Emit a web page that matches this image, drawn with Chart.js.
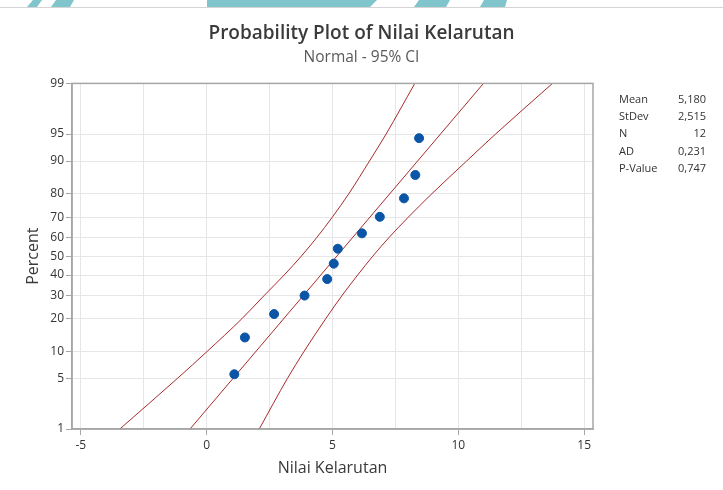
<!DOCTYPE html>
<html>
<head>
<meta charset="utf-8">
<script src="https://cdn.jsdelivr.net/npm/chart.js@4.4.0/dist/chart.umd.min.js"></script>
<style>
  html, body { margin: 0; padding: 0; background: #fff; }
  #wrap { width: 723px; height: 490px; position: relative; }
</style>
</head>
<body>
<div id="wrap"><canvas id="probChart" width="723" height="490"></canvas></div>
<script>
// observed values (x) and their plotted percents
const obsX = [1.10, 1.52, 2.68, 3.89, 4.79, 5.05, 5.21, 6.17, 6.88, 7.84, 8.29, 8.44];
const obsPct = [5.6, 13.7, 21.8, 29.8, 37.9, 46.0, 54.0, 62.1, 70.2, 78.2, 86.3, 94.4];
// fitted line, read at its two ends
const fitX = [-0.66, 11.0];
const fitPct = [1, 99];
const ciPct = [1, 5, 10, 20, 30, 40, 50, 60, 70, 80, 90, 95, 99];
const ciLowX = [-3.45, -1.16, 0.02, 1.40, 2.30, 3.08, 3.76, 4.38, 4.99, 5.65, 6.47, 7.13, 8.27];
const ciHighX = [2.09, 3.21, 3.87, 4.73, 5.39, 6.00, 6.60, 7.25, 8.01, 8.95, 10.33, 11.48, 13.74];
// axes
const yTicks = [1, 5, 10, 20, 30, 40, 50, 60, 70, 80, 90, 95, 99];
const xTicks = [-5, -2.5, 0, 2.5, 5, 7.5, 10, 12.5, 15];
const statLabels = ['Mean', 'StDev', 'N', 'AD', 'P-Value'];
const statValues = ['5,180', '2,515', '12', '0,231', '0,747'];

// inverse normal cdf (Acklam) - used for the probability axis
function probit(p) {
  const a = [-3.969683028665376e+01, 2.209460984245205e+02, -2.759285104469687e+02, 1.383577518672690e+02, -3.066479806614716e+01, 2.506628277459239e+00];
  const b = [-5.447609879822406e+01, 1.615858368580409e+02, -1.556989798598866e+02, 6.680131188771972e+01, -1.328068155288572e+01];
  const c = [-7.784894002430293e-03, -3.223964580411365e-01, -2.400758277161838e+00, -2.549732539343734e+00, 4.374664141464968e+00, 2.938163982698783e+00];
  const d = [7.784695709041462e-03, 3.224671290700398e-01, 2.445134137142996e+00, 3.754408661907416e+00];
  const pl = 0.02425;
  let q, r;
  if (p < pl) {
    q = Math.sqrt(-2 * Math.log(p));
    return (((((c[0]*q+c[1])*q+c[2])*q+c[3])*q+c[4])*q+c[5]) / ((((d[0]*q+d[1])*q+d[2])*q+d[3])*q+1);
  }
  if (p > 1 - pl) {
    q = Math.sqrt(-2 * Math.log(1 - p));
    return -(((((c[0]*q+c[1])*q+c[2])*q+c[3])*q+c[4])*q+c[5]) / ((((d[0]*q+d[1])*q+d[2])*q+d[3])*q+1);
  }
  q = p - 0.5; r = q * q;
  return (((((a[0]*r+a[1])*r+a[2])*r+a[3])*r+a[4])*r+a[5])*q / (((((b[0]*r+b[1])*r+b[2])*r+b[3])*r+b[4])*r+1);
}
const z = pct => probit(pct / 100);
const pts = (xs, ps) => xs.map((x, i) => ({ x: x, y: z(ps[i]) }));

const FONT = "'Open Sans', 'Noto Sans', sans-serif";
const RED = '#a82a2c';
const AXIS = '#a6a6a6';

// teal strip at the very top + frame + stats table
const extras = {
  id: 'extras',
  beforeDraw(chart) {
    const ctx = chart.ctx;
    ctx.save();
    ctx.fillStyle = '#80c4cc';
    const shapes = [
      [[33, 0], [42, 0], [37, 7], [27, 7]],
      [[56, 0], [74, 0], [70, 7], [51, 7]],
      [[207, 0], [377, 0], [370, 7], [207, 7]],
      [[419, 0], [450, 0], [446, 7], [414, 7]],
      [[484, 0], [507, 0], [505, 7], [480, 7]]
    ];
    shapes.forEach(s => {
      ctx.beginPath();
      ctx.moveTo(s[0][0], s[0][1]);
      s.slice(1).forEach(p => ctx.lineTo(p[0], p[1]));
      ctx.closePath();
      ctx.fill();
    });
    ctx.strokeStyle = '#d4d4d4';
    ctx.lineWidth = 1;
    ctx.beginPath();
    ctx.moveTo(0, 7.5);
    ctx.lineTo(723, 7.5);
    ctx.stroke();
    ctx.restore();
  },
  afterDraw(chart) {
    const ctx = chart.ctx;
    const a = chart.chartArea;
    ctx.save();
    ctx.strokeStyle = AXIS;
    ctx.lineWidth = 1.5;
    ctx.strokeRect(a.left, a.top, a.right - a.left, a.bottom - a.top);
    ctx.font = '11px ' + FONT;
    ctx.fillStyle = '#333';
    ctx.textBaseline = 'middle';
    statLabels.forEach((lab, i) => {
      const y = a.top + 16.5 + i * 17.2;
      ctx.textAlign = 'left';
      ctx.fillText(lab, a.right + 26, y);
      ctx.textAlign = 'right';
      ctx.fillText(statValues[i], a.right + 113, y);
    });
    ctx.restore();
  }
};

const curve = (label, data) => ({
  label: label,
  data: data,
  showLine: true,
  borderColor: RED,
  borderWidth: 1,
  pointRadius: 0,
  cubicInterpolationMode: 'monotone',
  order: 1
});

new Chart(document.getElementById('probChart'), {
  type: 'scatter',
  data: {
    datasets: [
      {
        label: 'Nilai Kelarutan',
        data: pts(obsX, obsPct),
        backgroundColor: '#0a55a6',
        borderColor: '#0a55a6',
        pointRadius: 4.5,
        pointHoverRadius: 4.5,
        order: 0
      },
      curve('Fit', pts(fitX, fitPct)),
      curve('Lower CI', pts(ciLowX, ciPct)),
      curve('Upper CI', pts(ciHighX, ciPct))
    ]
  },
  options: {
    responsive: false,
    animation: false,
    layout: { padding: 0 },
    plugins: {
      legend: { display: false },
      tooltip: { enabled: false },
      title: {
        display: true,
        text: 'Probability Plot of Nilai Kelarutan',
        color: '#3a3a3a',
        font: { family: FONT, size: 19, weight: '600' },
        padding: { top: 22, bottom: 1 }
      },
      subtitle: {
        display: true,
        text: 'Normal - 95% CI',
        color: '#5a5a5a',
        font: { family: FONT, size: 15.5 },
        padding: { top: 2, bottom: 17 }
      }
    },
    scales: {
      x: {
        type: 'linear',
        min: -5.35,
        max: 15.35,
        afterBuildTicks: s => { s.ticks = xTicks.map(v => ({ value: v })); },
        afterFit: s => { s.height = 61; },
        ticks: {
          color: '#333',
          font: { family: FONT, size: 12 },
          padding: 3,
          maxRotation: 0,
          callback: v => (v % 5 === 0 ? String(v) : '')
        },
        grid: {
          color: '#e6e6e6',
          tickLength: 6,
          tickColor: c => (c.tick && c.tick.value % 5 === 0 ? AXIS : 'rgba(0,0,0,0)')
        },
        border: { color: AXIS, width: 1.5 },
        title: {
          display: true,
          text: 'Nilai Kelarutan',
          color: '#3a3a3a',
          font: { family: FONT, size: 16 },
          padding: { top: 4, bottom: 12 }
        }
      },
      y: {
        type: 'linear',
        min: z(1),
        max: z(99),
        afterBuildTicks: s => { s.ticks = yTicks.map(p => ({ value: z(p) })); },
        afterFit: s => { s.width = 72; },
        ticks: {
          color: '#333',
          font: { family: FONT, size: 12 },
          padding: 2,
          callback: v => {
            const p = yTicks.find(t => Math.abs(z(t) - v) < 1e-6);
            return p === undefined ? '' : String(p);
          }
        },
        grid: { color: '#e6e6e6', tickLength: 6, tickColor: AXIS },
        border: { color: AXIS, width: 1.5 },
        title: {
          display: true,
          text: 'Percent',
          color: '#3a3a3a',
          font: { family: FONT, size: 16 },
          padding: { top: 24, bottom: 0 }
        }
      },
      yR: {
        type: 'linear',
        position: 'right',
        min: 0,
        max: 1,
        grid: { display: false },
        border: { display: false },
        ticks: { display: false },
        afterFit: s => { s.width = 130; }
      }
    }
  },
  plugins: [extras]
});
</script>
</body>
</html>
